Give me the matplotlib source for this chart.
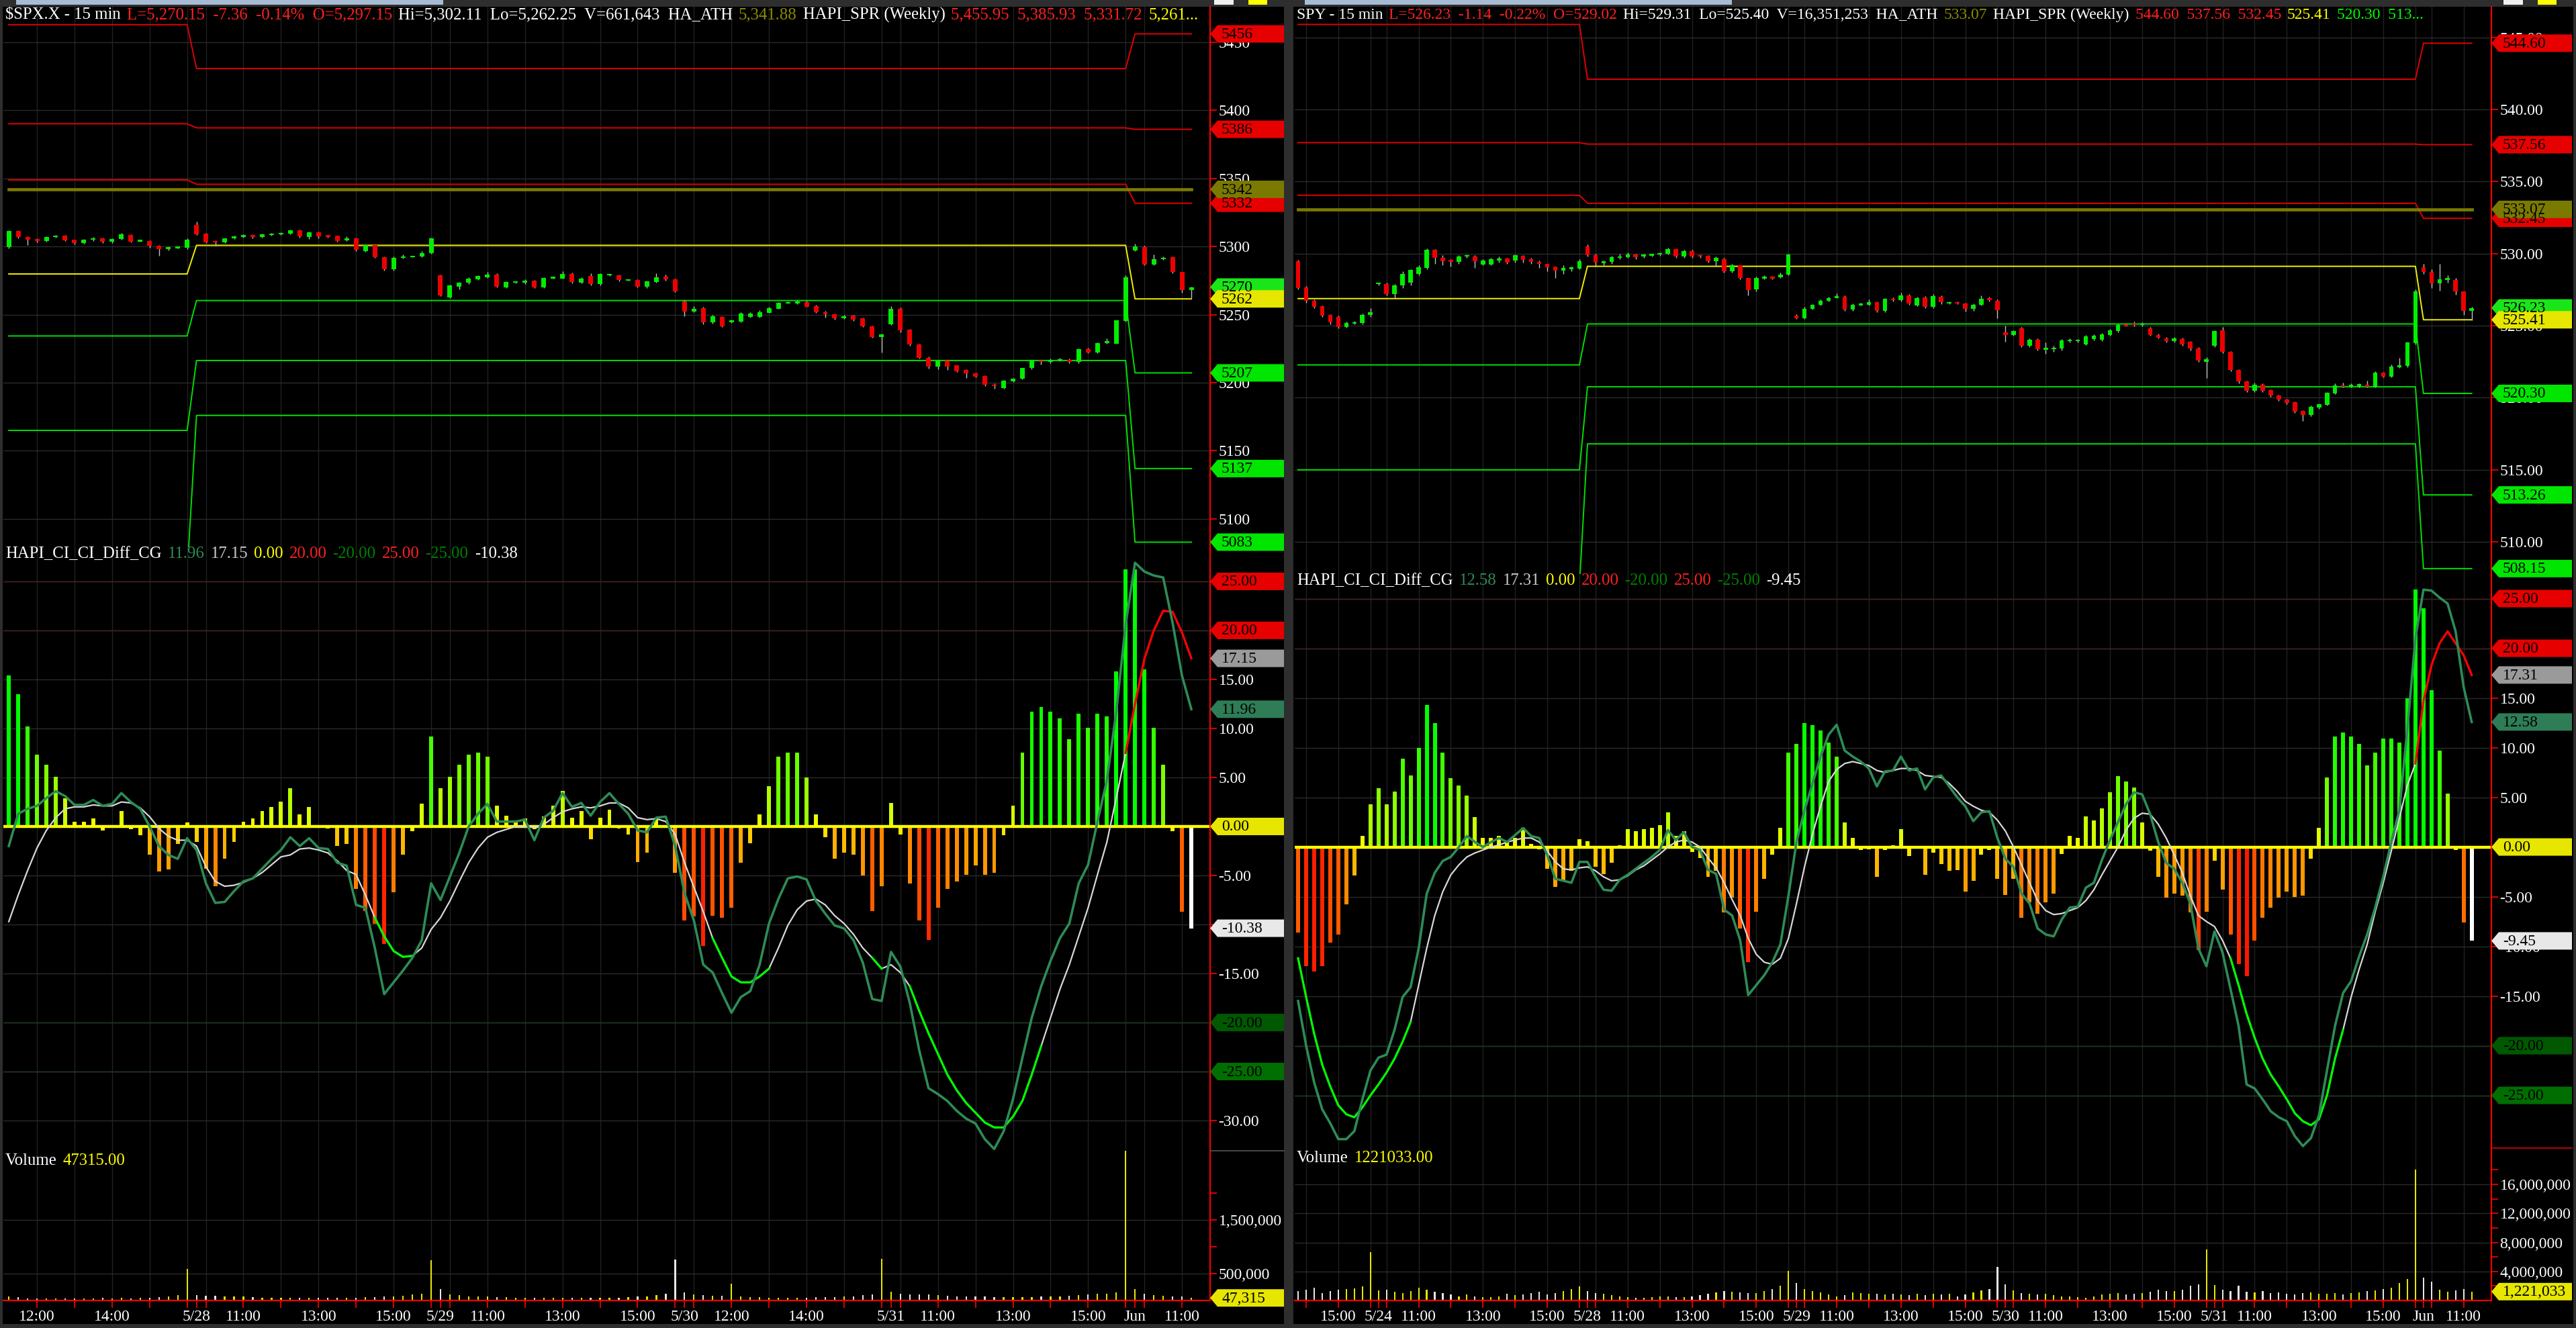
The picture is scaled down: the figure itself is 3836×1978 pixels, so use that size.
import numpy as np
import matplotlib
matplotlib.use('Agg')
import matplotlib.pyplot as plt
from matplotlib.patches import Polygon, Rectangle
from matplotlib.lines import Line2D
from matplotlib.transforms import IdentityTransform
from matplotlib.colors import LinearSegmentedColormap
from matplotlib.ticker import FuncFormatter

plt.rcParams['font.family'] = ['Liberation Serif', 'DejaVu Serif']

W, H = 3836, 1978
FS = 17
FS_TITLE = 17.8
PX = IdentityTransform()

# ================= $SPX.X data =================
spx_days = ['5/24', '5/28', '5/29', '5/30', '5/31', 'Jun']
spx_first_bar = [675, 585, 585, 645, 585, 585]      # minutes of first bar end
spx_bar_count = [20, 26, 26, 22, 26, 7]
spx_hour_labels = [[12, 14], [11, 13, 15], [11, 13, 15], [12, 14], [11, 13, 15], [11]]

spx_open = [5299.5, 5311.3, 5306.9, 5305.3, 5303.9, 5306.9, 5307.7, 5304.8, 5302.5, 5304.8, 5306.1, 5303.3, 5305.3, 5308.5, 5304.1, 5303.9, 5300.6, 5297.9, 5299.2, 5299.2,
            5316.0, 5309.4, 5303.9, 5303.1, 5305.9, 5306.9, 5308.5, 5306.9, 5309.0, 5309.0, 5309.2, 5311.8, 5307.1, 5310.2, 5307.7, 5307.7, 5304.4, 5305.9, 5296.7, 5301.0, 5292.1, 5283.5, 5291.4, 5292.6, 5292.4, 5294.9,
            5278.8, 5262.8, 5270.7, 5273.2, 5276.1, 5277.6, 5279.3, 5270.2, 5273.8, 5273.2, 5274.8, 5269.9, 5277.0, 5276.6, 5279.9, 5273.3, 5278.4, 5272.2, 5279.3, 5278.8, 5275.3, 5275.3, 5270.7, 5274.0, 5277.8, 5275.8,
            5259.7, 5252.1, 5254.6, 5244.1, 5248.2, 5244.4, 5245.0, 5248.5, 5248.5, 5251.3, 5254.3, 5258.5, 5258.0, 5259.2, 5256.2, 5251.8, 5250.2, 5247.2, 5249.3, 5247.4, 5241.6, 5233.4,
            5243.1, 5254.3, 5239.1, 5227.9, 5218.4, 5211.8, 5216.1, 5212.6, 5209.5, 5206.9, 5204.9, 5198.7, 5195.9, 5200.8, 5202.9, 5210.7, 5216.1, 5215.1, 5216.4, 5216.9, 5215.4, 5224.5, 5222.0, 5228.9, 5228.8, 5245.5,
            5297.0, 5299.5, 5286.7, 5291.0, 5292.1, 5281.2, 5268.0]
spx_close = [5311.3, 5306.9, 5304.9, 5303.9, 5306.9, 5307.7, 5304.4, 5302.5, 5304.9, 5306.1, 5303.3, 5305.3, 5308.9, 5303.6, 5304.2, 5300.3, 5297.9, 5299.3, 5299.3, 5304.9,
             5309.0, 5303.1, 5303.1, 5305.9, 5307.4, 5308.5, 5306.9, 5308.9, 5309.1, 5309.9, 5311.8, 5307.4, 5310.2, 5307.4, 5307.6, 5304.1, 5306.1, 5297.4, 5301.0, 5292.1, 5283.5, 5291.8, 5292.8, 5292.7, 5295.1, 5305.9,
             5264.1, 5271.5, 5273.3, 5276.6, 5278.4, 5279.3, 5270.7, 5273.8, 5273.9, 5275.0, 5269.9, 5277.0, 5277.1, 5279.9, 5274.0, 5276.6, 5272.2, 5279.6, 5279.4, 5275.3, 5275.4, 5270.7, 5274.3, 5277.5, 5276.0, 5266.9,
             5252.1, 5254.3, 5244.1, 5249.0, 5241.6, 5245.7, 5250.8, 5250.8, 5251.6, 5254.8, 5258.4, 5258.6, 5259.5, 5255.9, 5251.5, 5250.2, 5247.2, 5249.0, 5246.5, 5241.6, 5233.7, 5235.5,
             5254.3, 5238.6, 5227.9, 5218.4, 5211.8, 5216.1, 5212.0, 5208.5, 5206.9, 5204.6, 5198.3, 5197.5, 5201.3, 5202.9, 5210.7, 5216.1, 5215.1, 5216.9, 5217.2, 5215.4, 5224.5, 5222.0, 5228.9, 5230.4, 5245.7, 5277.2,
             5299.8, 5286.8, 5290.8, 5291.4, 5281.1, 5268.0, 5270.2]
spx_high = [5312.0, 5312.0, 5307.5, 5306.0, 5307.5, 5308.5, 5308.5, 5305.0, 5305.5, 5307.0, 5306.5, 5306.0, 5310.0, 5309.0, 5304.8, 5304.5, 5301.0, 5300.0, 5300.0, 5306.0,
            5318.1, 5310.0, 5304.5, 5306.5, 5308.0, 5309.0, 5309.0, 5309.5, 5309.8, 5310.5, 5312.5, 5312.5, 5311.0, 5311.0, 5308.5, 5308.0, 5307.5, 5306.5, 5301.5, 5301.5, 5292.5, 5292.5, 5294.0, 5293.2, 5296.5, 5306.5,
            5279.5, 5272.0, 5274.0, 5277.5, 5279.0, 5281.5, 5280.5, 5274.5, 5274.5, 5275.8, 5275.5, 5277.5, 5277.6, 5282.0, 5281.0, 5277.5, 5280.5, 5280.5, 5280.0, 5279.5, 5276.0, 5276.0, 5275.0, 5280.5, 5279.5, 5276.5,
            5260.5, 5256.0, 5255.5, 5250.0, 5249.0, 5246.5, 5251.5, 5251.5, 5253.0, 5255.5, 5259.0, 5259.5, 5260.5, 5260.0, 5257.0, 5252.5, 5250.8, 5249.8, 5250.0, 5248.0, 5242.0, 5236.0,
            5256.0, 5255.0, 5239.5, 5228.5, 5219.0, 5217.0, 5217.0, 5213.0, 5210.0, 5207.5, 5205.5, 5199.5, 5202.0, 5203.5, 5211.0, 5217.0, 5217.0, 5217.5, 5218.0, 5217.5, 5225.0, 5225.5, 5229.5, 5232.5, 5246.0, 5279.0,
            5302.0, 5300.5, 5294.0, 5292.5, 5292.5, 5281.5, 5270.5]
spx_low = [5298.5, 5306.0, 5301.0, 5303.0, 5303.5, 5306.5, 5304.0, 5301.5, 5302.0, 5304.0, 5302.5, 5302.5, 5305.0, 5303.0, 5303.5, 5299.0, 5292.9, 5297.0, 5298.5, 5298.0,
           5308.5, 5302.5, 5300.5, 5302.5, 5305.5, 5306.5, 5306.0, 5306.5, 5308.0, 5308.5, 5308.8, 5306.5, 5305.5, 5306.0, 5306.5, 5303.5, 5304.0, 5296.5, 5296.0, 5291.5, 5282.5, 5282.5, 5291.0, 5292.0, 5292.0, 5294.5,
           5263.5, 5262.0, 5268.5, 5272.5, 5275.5, 5277.0, 5270.0, 5269.5, 5273.0, 5272.5, 5269.5, 5269.5, 5276.5, 5276.2, 5273.0, 5273.0, 5271.5, 5271.5, 5278.5, 5274.5, 5274.7, 5270.0, 5269.5, 5273.5, 5275.0, 5266.5,
           5249.0, 5251.5, 5243.0, 5243.5, 5241.0, 5244.0, 5244.5, 5248.0, 5248.0, 5251.0, 5254.0, 5258.0, 5257.5, 5255.5, 5251.0, 5248.0, 5246.5, 5246.8, 5245.5, 5241.0, 5233.0, 5222.0,
           5242.5, 5237.0, 5227.0, 5217.5, 5210.5, 5210.0, 5209.5, 5208.0, 5203.5, 5204.0, 5197.5, 5195.5, 5195.5, 5200.5, 5202.5, 5210.0, 5213.5, 5214.5, 5216.0, 5214.5, 5214.5, 5221.5, 5221.5, 5228.5, 5228.5, 5245.0,
           5296.5, 5286.0, 5286.0, 5290.0, 5280.5, 5266.0, 5262.3]

# weekly levels (red1, red2, red3, yellow, green1, green2, green3) per week
spx_week_bars = [20, 100, 7]
spx_levels = {'r1': [5462.7, 5430.5, 5455.95], 'r2': [5390.0, 5387.0, 5385.93], 'r3': [5348.8, 5345.6, 5331.72],
              'y': [5279.8, 5300.8, 5261.5], 'g1': [5234.3, 5260.3, 5207.2], 'g2': [5165.0, 5216.3, 5137.0],
              'g3': [5060.0, 5176.0, 5083.0]}
spx_ath = 5341.88

spx_hist = [15.4, 13.5, 10.2, 7.3, 6.3, 5.1, 2.9, 0.5, 0.5, 0.8,
            -0.4, 0.1, 1.6, -0.3, -0.9, -2.9, -4.6, -4.4, -1.8, 0.4,
            -1.6, -4.3, -6.1, -3.3, -1.6, 0.5, 0.8, 1.6, 2.0, 2.5,
            3.9, 1.2, 2.0, 0.1, -0.2, -2.0, -1.8, -6.4, -8.6, -9.9,
            -12.0, -6.7, -2.9, -0.5, 2.3, 9.2, 3.9, 5.1, 6.3, 7.3,
            7.5, 7.1, 2.1, 1.1, 0.5, 0.8, -0.3, 1.0, 2.1, 3.6,
            0.9, 1.6, -1.3, 0.9, 1.7, -0.2, -0.8, -3.6, -2.7, 0.9,
            0.1, -4.7, -9.6, -9.2, -12.2, -9.1, -9.3, -8.3, -3.7, -1.7,
            1.2, 4.1, 7.1, 7.5, 7.5, 5.0, 1.2, -1.1, -3.3, -2.7,
            -2.9, -5.0, -8.6, -6.1, 2.4, -0.8, -5.8, -9.6, -11.6, -8.3,
            -6.4, -5.6, -4.9, -4.0, -4.9, -4.7, -0.9, 2.1, 7.5, 11.7,
            12.2, 11.7, 11.0, 8.9, 11.5, 10.1, 11.5, 11.2, 15.8, 26.2,
            26.2, 16.0, 10.1, 6.3, -0.5, -8.7, -10.38]
spx_fast = [-2.0, 1.3, 1.8, 2.1, 2.9, 3.6, 3.1, 2.2, 2.2, 2.7,
            2.1, 2.3, 3.4, 2.5, 1.8, 0.0, -2.0, -2.9, -3.3, -1.2,
            -2.4, -5.8, -7.8, -7.7, -6.6, -5.6, -5.3, -4.3, -3.3, -2.4,
            -1.1, -2.0, -1.2, -2.2, -2.3, -3.7, -4.0, -8.0, -8.3, -12.4,
            -17.1, -15.9, -14.7, -13.4, -11.6, -5.8, -7.5, -5.1, -2.7, 0.0,
            1.3, 2.3, 0.5, 0.5, 0.5, 0.7, -1.4, 0.9, 1.6, 3.4,
            2.0, 2.4, 1.1, 2.5, 3.4, 2.3, 1.3, -0.4, -0.6, 0.9,
            1.0, -2.0, -6.8, -9.6, -14.1, -14.9, -17.0, -19.0, -17.4, -16.8,
            -14.1, -9.9, -7.4, -5.3, -5.1, -5.4, -7.6, -8.9, -10.1, -10.4,
            -11.6, -13.9, -17.6, -17.8, -12.8, -14.3, -18.0, -22.8, -26.7, -27.3,
            -28.0, -29.0, -29.8, -30.3, -31.9, -32.9, -31.1, -27.8, -23.6, -19.5,
            -16.3, -13.7, -11.4, -9.9, -5.8, -3.9, 0.5, 4.7, 11.7, 20.6,
            26.9, 26.0, 25.6, 25.4, 20.8, 15.4, 11.96]
spx_slow = [-9.7, -7.0, -4.5, -2.2, -0.4, 0.9, 1.8, 2.0, 2.0, 2.2,
            2.1, 2.1, 2.5, 2.4, 1.9, 1.0, -0.2, -1.0, -1.4, -1.4,
            -2.0, -4.1, -5.6, -6.1, -6.0, -5.7, -5.3, -4.7, -3.9, -3.1,
            -2.9, -2.3, -2.2, -2.4, -2.7, -3.5, -4.5, -4.9, -7.0, -9.3,
            -11.2, -12.7, -13.3, -13.2, -12.4, -10.5, -9.3, -7.6, -5.6, -3.7,
            -2.2, -1.1, -0.6, -0.3, 0.0, 0.0, -0.1, 0.2, 0.9, 1.5,
            1.8, 2.0, 1.9, 2.1, 2.4, 2.4, 1.9, 0.9, 0.7, 0.8,
            0.5, -0.8, -3.7, -6.2, -8.7, -11.4, -13.4, -15.3, -15.9, -15.9,
            -15.3, -14.5, -12.4, -10.1, -8.5, -7.6, -7.4, -8.0, -9.1, -9.9,
            -11.0, -12.4, -13.4, -14.5, -14.1, -14.9, -16.3, -18.8, -21.1, -23.2,
            -25.3, -26.9, -28.2, -29.2, -30.2, -30.7, -30.7, -29.6, -28.0, -25.3,
            -22.4, -19.5, -16.6, -14.1, -11.2, -8.3, -4.9, -1.6, 2.9, 7.5,
            12.5, 17.1, 20.0, 22.0, 21.9, 19.8, 17.15]
spx_green_runs = [(39, 43), (75, 81), (92, 93), (96, 110)]
spx_red_runs = [(119, 126)]

spx_volume_k = [70, 65, 40, 40, 38, 42, 35, 40, 38, 35, 45, 40, 45, 40, 50, 55, 60, 75, 95, 590,
                104, 83, 85, 80, 75, 70, 60, 55, 55, 50, 50, 45, 45, 45, 50, 45, 50, 55, 60, 65, 70, 80, 92, 112, 130, 750,
                208, 112, 100, 80, 75, 70, 65, 60, 55, 50, 50, 45, 45, 50, 45, 45, 50, 45, 50, 55, 60, 70, 80, 100, 120, 760,
                150, 110, 100, 90, 85, 317, 70, 65, 60, 55, 55, 50, 50, 55, 60, 60, 65, 70, 80, 95, 110, 770,
                167, 120, 110, 115, 110, 95, 85, 80, 75, 70, 70, 65, 60, 60, 60, 65, 70, 75, 80, 90, 100, 110, 120, 130, 150, 3200,
                217, 130, 100, 90, 80, 70, 47.315]

spx_title = [('$SPX.X - 15 min', 'white'), ('L=5,270.15  -7.36  -0.14%  O=5,297.15', '#ff2020'),
             ('Hi=5,302.11  Lo=5,262.25  V=661,643  HA_ATH', 'white'), ('5,341.88', '#8c8c00'),
             ('HAPI_SPR (Weekly)', 'white'), ('5,455.95  5,385.93  5,331.72', '#ff2020'), ('5,261...', '#ffff00')]

# ================= SPY data =================
spy_days = ['5/23', '5/24', '5/28', '5/29', '5/30', '5/31', 'Jun']
spy_first_bar = [825, 585, 585, 585, 585, 585, 585]
spy_bar_count = [10, 26, 26, 26, 26, 26, 7]
spy_hour_labels = [[15], [11, 13, 15], [11, 13, 15], [11, 13, 15], [11, 13, 15], [11, 13, 15], [11]]

spy_open = [529.49, 527.68, 526.73, 526.34, 525.75, 525.63, 524.92, 525.16, 525.19, 525.74,
            527.90, 527.89, 527.21, 527.78, 528.00, 528.60, 529.01, 530.25, 529.72, 529.57, 529.41, 529.83, 529.78, 529.24, 529.24, 529.52, 529.64, 529.52, 529.85, 529.60, 529.44, 529.29, 529.09, 528.82, 528.98, 528.98,
            530.50, 529.91, 529.36, 529.41, 529.72, 529.75, 529.92, 529.80, 529.92, 529.92, 530.00, 530.31, 529.80, 530.16, 529.85, 529.85, 529.49, 529.63, 528.79, 529.18, 528.29, 527.52, 528.30, 528.35, 528.36, 528.56,
            525.72, 525.54, 526.19, 526.44, 526.75, 526.93, 527.01, 526.14, 526.47, 526.47, 526.62, 526.03, 526.85, 526.78, 527.12, 526.42, 526.96, 526.31, 527.01, 526.59, 526.59, 526.54, 526.16, 526.47, 526.90, 526.73,
            524.53, 524.37, 524.84, 523.60, 524.02, 523.40, 523.40, 523.40, 523.97, 523.97, 523.72, 524.06, 524.03, 524.37, 524.61, 525.07, 525.15, 525.04, 524.84, 524.37, 524.11, 523.91, 524.06, 523.88, 523.43, 522.51,
            523.60, 524.68, 523.18, 521.94, 521.12, 520.50, 520.89, 520.53, 520.14, 519.88, 519.68, 519.10, 518.79, 519.34, 519.52, 520.30, 520.84, 520.76, 520.82, 520.89, 520.76, 521.74, 521.47, 522.13, 522.20, 523.80,
            529.04, 528.72, 527.92, 528.24, 528.19, 527.37, 526.05]
spy_close = [527.63, 526.73, 526.31, 525.72, 525.26, 524.92, 525.19, 525.23, 525.77, 525.95,
             527.95, 527.21, 527.78, 528.60, 528.85, 529.05, 530.25, 529.71, 529.49, 529.44, 529.78, 529.84, 529.46, 529.53, 529.60, 529.64, 529.38, 529.88, 529.57, 529.44, 529.29, 529.05, 528.82, 529.01, 528.99, 529.49,
             529.91, 529.36, 529.45, 529.75, 529.80, 529.92, 529.75, 529.92, 529.93, 530.03, 530.31, 529.80, 530.16, 529.80, 529.84, 529.49, 529.72, 528.79, 529.18, 528.29, 527.47, 528.29, 528.36, 528.33, 528.56, 529.92,
             525.54, 526.19, 526.44, 526.75, 526.93, 527.04, 526.14, 526.47, 526.48, 526.62, 526.03, 526.85, 526.82, 527.12, 526.54, 526.90, 526.31, 527.04, 526.62, 526.60, 526.58, 526.16, 526.47, 526.88, 526.78, 526.08,
             524.37, 524.64, 523.60, 524.02, 523.37, 523.41, 523.42, 523.99, 523.98, 523.98, 524.27, 524.30, 524.42, 524.68, 525.07, 525.00, 525.04, 525.15, 524.37, 524.17, 523.91, 524.11, 523.68, 523.40, 522.56, 522.67,
             524.61, 523.18, 521.94, 521.12, 520.50, 520.89, 520.50, 520.14, 519.88, 519.65, 519.06, 518.79, 519.37, 519.55, 520.33, 520.86, 520.76, 520.89, 520.93, 520.76, 521.74, 521.47, 522.16, 522.25, 523.83, 527.37,
             528.72, 527.92, 528.24, 528.25, 527.37, 526.05, 526.23]
spy_high = [529.55, 527.75, 526.8, 526.4, 525.8, 525.7, 525.3, 525.35, 525.85, 526.2,
            528.0, 528.0, 527.9, 528.8, 528.9, 529.2, 530.35, 530.3, 529.9, 529.6, 529.9, 529.95, 529.9, 529.6, 529.7, 529.8, 529.7, 529.95, 529.9, 529.7, 529.5, 529.3, 529.1, 529.2, 529.1, 529.6,
            530.65, 530.0, 529.5, 529.85, 530.0, 530.1, 530.0, 530.0, 530.0, 530.1, 530.4, 530.35, 530.25, 530.25, 529.95, 529.9, 529.8, 529.7, 529.3, 529.2, 528.3, 528.4, 528.5, 528.45, 528.7, 530.0,
            525.8, 526.3, 526.5, 526.8, 527.0, 527.25, 527.1, 526.55, 526.6, 526.8, 526.7, 526.9, 526.95, 527.3, 527.2, 527.0, 527.05, 527.2, 527.1, 526.7, 526.7, 526.6, 526.55, 527.1, 527.0, 526.8,
            525.0, 524.7, 524.9, 524.1, 524.1, 523.85, 523.6, 524.05, 524.1, 524.05, 524.35, 524.4, 524.5, 524.75, 525.15, 525.15, 525.3, 525.25, 524.9, 524.45, 524.2, 524.2, 524.15, 523.95, 523.5, 522.8,
            524.7, 524.9, 523.25, 522.0, 521.2, 521.05, 521.0, 520.6, 520.2, 519.95, 519.75, 519.15, 519.45, 519.6, 520.4, 521.0, 521.05, 521.0, 521.0, 521.2, 521.85, 521.8, 522.3, 522.75, 523.9, 527.5,
            529.31, 528.9, 529.3, 528.5, 528.3, 527.4, 526.3]
spy_low = [527.5, 526.6, 526.2, 525.6, 525.1, 524.8, 524.85, 525.1, 525.1, 525.6,
           527.8, 527.1, 526.9, 527.6, 527.8, 528.5, 528.9, 529.3, 529.2, 529.1, 529.3, 529.7, 529.0, 529.2, 529.2, 529.4, 529.3, 529.4, 529.4, 529.3, 529.0, 528.8, 528.3, 528.6, 528.8, 528.9,
           529.8, 529.1, 529.2, 529.3, 529.6, 529.7, 529.6, 529.7, 529.8, 529.85, 529.95, 529.7, 529.7, 529.7, 529.7, 529.4, 529.1, 528.7, 528.7, 528.2, 527.12, 527.4, 528.2, 528.2, 528.3, 528.5,
           525.45, 525.45, 526.1, 526.4, 526.7, 526.9, 526.05, 526.05, 526.4, 526.4, 525.95, 525.95, 526.7, 526.7, 526.45, 526.35, 526.2, 526.2, 526.5, 526.5, 526.5, 526.0, 526.05, 526.4, 526.7, 525.5,
           523.9, 524.3, 523.5, 523.5, 523.3, 523.06, 523.2, 523.3, 523.85, 523.85, 523.65, 524.0, 523.95, 524.3, 524.55, 524.95, 524.95, 524.95, 524.3, 524.1, 523.85, 523.85, 523.6, 523.3, 522.5, 521.35,
           523.5, 523.1, 521.85, 521.0, 520.4, 520.4, 520.4, 520.05, 519.8, 519.55, 518.95, 518.41, 518.7, 519.25, 519.45, 520.25, 520.7, 520.7, 520.7, 520.7, 520.7, 521.4, 521.4, 522.05, 522.1, 523.7,
           528.6, 527.6, 527.45, 527.98, 527.17, 525.73, 525.40]

spy_week_bars = [36, 104, 7]
spy_levels = {'r1': [545.9, 542.1, 544.60], 'r2': [537.7, 537.6, 537.56], 'r3': [534.05, 533.49, 532.45],
              'y': [526.88, 529.12, 525.41], 'g1': [522.28, 525.12, 520.30], 'g2': [515.0, 520.76, 513.26],
              'g3': [507.0, 516.8, 508.15]}
spy_ath = 533.07

spy_hist = [-8.6, -12.0, -12.5, -12.0, -9.6, -8.8, -5.8, -2.9, 1.1, 4.3,
            5.9, 4.3, 5.6, 8.9, 7.2, 10.0, 14.3, 12.5, 9.5, 6.9,
            6.2, 5.2, 3.0, 0.9, 0.9, 1.1, 0.5, 0.9, 1.9, 0.3,
            -0.2, -2.2, -4.0, -3.4, -2.4, 0.8, 0.6, -2.0, -2.7, -1.6,
            0.2, 1.8, 1.6, 1.8, 1.9, 2.2, 3.5, 1.1, 1.6, -0.5,
            -1.1, -3.0, -2.4, -6.6, -5.1, -8.2, -11.6, -6.5, -3.2, -0.8,
            1.9, 9.5, 10.4, 12.5, 12.3, 11.7, 10.5, 9.1, 2.5, 0.9,
            -0.3, -0.2, -3.0, -0.3, 0.2, 1.8, -0.9, 0.1, -2.8, -0.6,
            -1.7, -2.4, -2.3, -4.5, -3.4, -0.8, -0.3, -3.2, -4.8, -3.2,
            -7.1, -5.6, -6.7, -5.6, -4.7, -0.7, 1.1, 0.9, 3.1, 2.7,
            3.9, 5.5, 7.1, 6.6, 6.0, 2.5, -0.4, -3.0, -5.1, -4.7,
            -4.9, -6.6, -10.4, -6.5, -1.4, -4.3, -8.8, -11.8, -13.0, -9.4,
            -7.1, -6.1, -5.1, -4.5, -5.0, -4.9, -1.2, 1.9, 7.0, 11.1,
            11.5, 11.1, 10.4, 8.2, 9.5, 10.9, 10.9, 10.5, 15.0,
            25.9, 24.0, 15.8, 9.7, 5.4, -0.3, -7.6, -9.45]
spy_fast = [-15.5, -20.0, -23.7, -26.4, -27.8, -29.4, -29.4, -28.6, -25.4, -22.5,
            -21.2, -20.9, -18.4, -15.1, -14.1, -10.2, -4.7, -2.6, -1.4, -1.0,
            0.0, 1.1, 0.5, 0.0, 0.5, 0.9, 0.5, 1.2, 1.9, 1.1,
            0.9, -0.8, -3.2, -3.4, -3.6, -1.5, -1.5, -3.0, -4.3, -4.4,
            -3.3, -2.8, -2.2, -1.6, -1.0, -0.3, 1.7, 0.7, 1.5, 0.0,
            -0.3, -2.3, -2.7, -6.3, -6.9, -9.4, -14.9, -13.9, -12.9, -11.6,
            -9.8, -4.9, 0.5, 3.7, 6.4, 9.1, 11.3, 12.3, 9.7, 9.1,
            8.6, 7.9, 6.1, 7.6, 7.7, 9.1, 7.7, 7.9, 5.8, 7.0,
            7.2, 6.1, 5.0, 4.1, 2.6, 3.5, 3.6, 0.9, -1.2, -2.0,
            -4.7, -5.7, -8.2, -8.8, -9.0, -7.3, -6.1, -6.0, -4.1, -3.6,
            -1.3, 0.7, 2.5, 4.3, 5.5, 5.3, 3.3, 0.5, -1.6, -2.2,
            -3.6, -5.7, -10.2, -12.0, -8.5, -10.6, -14.3, -18.0, -23.9, -24.3,
            -25.4, -26.6, -27.2, -27.6, -29.1, -30.1, -29.3, -27.0, -22.5, -18.0,
            -14.7, -13.5, -11.0, -8.8, -6.1, -3.0, 0.5, 3.7, 11.9,
            21.0, 25.9, 25.8, 25.1, 24.5, 21.7, 16.1, 12.58]
spy_slow = [-11.2, -15.1, -18.8, -21.9, -24.1, -26.0, -26.9, -27.2, -26.2, -25.0,
            -23.9, -22.7, -21.3, -19.6, -17.6, -13.9, -10.2, -6.9, -4.5, -2.8,
            -1.8, -1.0, -0.6, -0.3, 0.0, 0.2, 0.5, 0.7, 0.9, 0.9,
            0.5, -0.4, -1.5, -2.2, -2.3, -2.1, -2.0, -2.4, -3.0, -3.4,
            -3.3, -2.9, -2.3, -1.9, -1.3, -0.7, 0.0, 0.5, 0.7, 0.5,
            0.0, -1.1, -2.1, -3.6, -5.3, -6.9, -9.2, -10.8, -11.6, -11.8,
            -11.2, -9.2, -5.7, -2.0, 1.3, 4.1, 6.6, 7.8, 8.4, 8.6,
            8.4, 8.2, 7.7, 7.5, 7.7, 7.9, 7.9, 7.7, 7.2, 7.1,
            7.0, 6.4, 5.6, 4.6, 4.1, 3.7, 3.5, 2.7, 1.6, 0.0,
            -1.8, -3.6, -5.4, -6.4, -6.8, -6.7, -6.4, -6.1, -5.4, -4.3,
            -2.8, -1.4, 0.0, 1.7, 2.9, 3.4, 3.3, 2.3, 0.9, -0.8,
            -2.6, -4.9, -6.9, -7.5, -8.0, -9.4, -11.2, -13.9, -16.8, -19.2,
            -21.3, -22.9, -24.1, -25.4, -26.8, -27.6, -28.0, -27.4, -25.0, -21.3,
            -18.4, -15.1, -12.3, -9.8, -6.5, -3.6, -0.4, 2.9, 6.2,
            8.4, 14.7, 18.3, 20.5, 21.7, 20.5, 19.3, 17.31]
spy_green_runs = [(0, 14), (116, 130)]
spy_red_runs = [(139, 146)]

spy_volume_m = [1.3, 1.5, 1.8, 1.0, 1.3, 1.5, 1.6, 1.7, 1.9, 6.7,
                1.4, 1.5, 1.2, 1.0, 1.3, 1.8, 1.5, 1.2, 1.0, 0.8, 0.6, 0.8, 0.6, 0.5, 0.5, 0.6, 0.9, 0.7, 0.8, 1.0, 1.2, 0.8, 1.0, 1.3, 1.6, 1.9,
                1.3, 1.0, 0.9, 0.7, 0.6, 0.5, 0.4, 0.4, 0.5, 0.6, 0.6, 0.5, 0.5, 0.6, 0.7, 0.9, 1.1, 1.3, 1.2, 1.1, 1.0, 1.0, 1.3, 1.6, 2.0, 4.1,
                2.4, 1.6, 1.3, 1.1, 0.8, 0.6, 0.7, 1.1, 1.0, 0.9, 0.9, 0.8, 0.9, 0.8, 0.7, 0.9, 0.7, 0.9, 0.8, 0.9, 0.6, 0.8, 1.1, 1.4, 1.6, 4.6,
                2.2, 1.4, 1.0, 0.9, 0.8, 0.9, 0.7, 0.6, 0.6, 0.5, 0.4, 0.6, 0.8, 0.9, 1.0, 0.8, 0.9, 1.0, 1.2, 1.5, 1.3, 1.3, 1.5, 2.0, 2.2, 7.0,
                2.1, 1.5, 1.3, 2.0, 1.2, 1.1, 1.3, 1.0, 1.1, 0.9, 0.8, 1.0, 1.1, 0.9, 0.9, 1.0, 0.8, 1.0, 1.1, 1.3, 1.4, 1.6, 1.8, 2.4, 3.0, 18.0,
                3.1, 2.6, 1.5, 1.2, 1.4, 1.6, 1.221033]

spy_title = [('SPY - 15 min', 'white'), ('L=526.23  -1.14  -0.22%  O=529.02', '#ff2020'),
             ('Hi=529.31  Lo=525.40  V=16,351,253  HA_ATH', 'white'), ('533.07', '#8c8c00'),
             ('HAPI_SPR (Weekly)', 'white'), ('544.60  537.56  532.45', '#ff2020'), ('525.41', '#ffff00'),
             ('520.30  513...', '#00ff00')]

# ================= drawing =================
fig = plt.figure(figsize=(W / 100, H / 100), dpi=100, facecolor='#2e2e2e')

HIST_CMAP = LinearSegmentedColormap.from_list('hist', [
    (0.0, '#ff1500'), (6 / 26, '#ff7800'), (11 / 26, '#ffc400'), (13 / 26, '#ffff00'),
    (16 / 26, '#ccff00'), (20 / 26, '#70ff00'), (1.0, '#00ff00')])

LEVEL_COL = {'r1': '#e00000', 'r2': '#e00000', 'r3': '#e00000', 'y': '#f0f000',
             'g1': '#00e000', 'g2': '#00e000', 'g3': '#00e000'}


def make_ax(x0, x1, y0, y1):
    ax = fig.add_axes([x0 / W, (H - y1) / H, (x1 - x0) / W, (y1 - y0) / H])
    ax.set_facecolor('black')
    for s in ax.spines.values():
        s.set_visible(False)
    ax.tick_params(axis='x', which='both', bottom=False, labelbottom=False)
    ax.yaxis.tick_right()
    ax.tick_params(axis='y', which='both', colors='red', labelcolor='white',
                   length=7, width=1.2, labelsize=FS, pad=2)
    ax.grid(axis='y', which='major', color='#2a2a2a', lw=1.0)
    return ax


def tag(ax, v, text, fc, w):
    x0 = ax.get_position().x1 * W
    y = ax.transData.transform((0, v))[1]
    hh = 13
    pts = [(x0, y), (x0 + 11, y + hh), (x0 + w, y + hh), (x0 + w, y - hh), (x0 + 11, y - hh)]
    fig.add_artist(Polygon(pts, closed=True, transform=PX, fc=fc, ec='none', zorder=5))
    fig.text(x0 + 17, y - 1, text, transform=PX, color='black', fontsize=FS,
             va='center', ha='left', zorder=6)


def text_row(x, y_img, parts, fs=FS_TITLE):
    r = fig.canvas.get_renderer()
    for s, col in parts:
        t = fig.text(x, H - y_img, s, transform=PX, color=col, fontsize=fs,
                     va='center', ha='left', zorder=7)
        x = t.get_window_extent(renderer=r).x1 + 9


def draw_chart(g):
    n = len(g['close'])
    x = np.arange(n)
    counts = g['counts']
    first = g['first']
    minutes = np.concatenate([f + 15 * np.arange(k) for f, k in zip(first, counts)])
    start = np.cumsum([0] + counts[:-1])
    hour_bars = np.where(minutes % 60 == 0)[0]

    ticks, labels = [], []
    for d in range(len(counts)):
        if d > 0:
            ticks.append(start[d])
            labels.append(g['days'][d])
        for hr in g['hours'][d]:
            ticks.append(start[d] + (hr * 60 - first[d]) // 15)
            labels.append(f'{hr}:00')

    x0, x1 = g['x0'], g['x1']
    axp = make_ax(x0, x1, *g['price'])
    axo = make_ax(x0, x1, *g['osc'])
    axv = make_ax(x0, x1, *g['vol'])
    for ax in (axp, axo, axv):
        ax.set_xlim(*g['xlim'])
        for k in hour_bars:
            ax.axvline(k, color='#212121', lw=1.0, zorder=0)
    axp.set_ylim(*g['plim'])
    axo.set_ylim(*g['olim'])
    axv.set_ylim(*g['vlim'])

    # ---- price panel ----
    axp.set_yticks(g['pticks'])
    axp.yaxis.set_major_formatter(FuncFormatter(lambda v, p: g['pfmt'].format(v)))
    for key, vals in g['levels'].items():
        series = np.repeat(vals, g['week_bars'])
        axp.plot(x, series, color=LEVEL_COL[key], lw=1.4, zorder=2)
    axp.plot([0, n - 1], [g['ath'], g['ath']], color='#808000', lw=3.4, alpha=0.95, zorder=2)

    o = np.array(g['open']); c = np.array(g['close'])
    hi = np.array(g['high']); lo = np.array(g['low'])
    up = c >= o
    axp.vlines(x, lo, hi, color='#c0c0c0', lw=1.0, zorder=3)
    prange = g['plim'][1] - g['plim'][0]
    body = np.abs(c - o)
    mn = prange * 0.0028
    bottom = np.where(body < mn, (o + c) / 2 - mn / 2, np.minimum(o, c))
    axp.bar(x, np.maximum(body, mn), g['cw'], bottom=bottom,
            color=np.where(up, '#00ee00', '#ee0000'), zorder=4)

    # ---- oscillator panel ----
    axo.set_yticks(g['oticks'])
    axo.yaxis.set_major_formatter(FuncFormatter(lambda v, p: f'{v:.2f}'))
    hist = np.array(g['hist'])
    cols = [HIST_CMAP(np.clip((v + 13) / 26, 0, 1)) for v in hist]
    cols[-1] = (1, 1, 1, 1)
    axo.bar(x, hist, g['hw'], color=cols, zorder=2)
    for lv, col in ((25, '#d00000'), (20, '#d00000'), (-20, '#008000'), (-25, '#008000')):
        axo.axhline(lv, color=col, lw=1.0, zorder=1)
    axo.axhline(0, color='#ffff00', lw=3.2, zorder=3)
    slow = np.array(g['slow']); fast = np.array(g['fast'])
    axo.plot(x, slow, color='#d8d8d8', lw=1.6, zorder=4)
    for a, b in g['green_runs']:
        axo.plot(x[a:b + 1], slow[a:b + 1], color='#00ff00', lw=2.3, zorder=5)
    for a, b in g['red_runs']:
        axo.plot(x[a:b + 1], slow[a:b + 1], color='#ff0000', lw=2.3, zorder=5)
    axo.plot(x, fast, color='#2e8b57', lw=2.6, zorder=6)

    # ---- volume panel ----
    vol = np.array(g['vol_data'])
    axv.set_yticks(g['vticks'])
    axv.set_yticks(g['vminor'], minor=True)
    axv.yaxis.set_major_formatter(FuncFormatter(lambda v, p: f'{v:,.0f}'))
    axv.bar(x, vol, g['vw'], color=np.where(up, '#e6e600', '#e6e6e6'), zorder=2)
    axv.spines['bottom'].set_visible(True)
    axv.spines['bottom'].set_color('red')
    axv.spines['bottom'].set_linewidth(1.6)
    axv.set_xticks(ticks)
    axv.set_xticklabels(labels)
    axv.set_xticks(hour_bars, minor=True)
    axv.tick_params(axis='x', which='both', bottom=True, labelbottom=True, colors='red',
                    labelcolor='white', length=8, width=1.2, labelsize=FS, pad=2)

    # ---- right axis line and separators ----
    xr = axp.get_position().x1 * W
    fig.add_artist(Line2D([xr, xr], [H - 10, H - g['vol'][1]], transform=PX, color='red', lw=1.5, zorder=4))
    fig.add_artist(Line2D([xr, xr + g['tw']], [H - g['vol'][0]] * 2, transform=PX,
                          color=g['sep'], lw=1.2, zorder=4))

    # ---- tags ----
    w = g['tw']
    for v, col in g['ptags']:
        tag(axp, v, g['pfmt_tag'].format(v), col, w)
    otags = [(25, '#e60000'), (20, '#e60000'), (slow[-1], '#9a9a9a'), (fast[-1], '#2e7d57'),
             (0, '#e6e600'), (hist[-1], '#e8e8e8'), (-20, '#005800'), (-25, '#006e00')]
    for v, col in otags:
        tag(axo, v, f'{v:.2f}', col, w)
    tag(axv, vol[-1], f'{vol[-1]:,.0f}', '#e6e600', w)

    # ---- titles ----
    text_row(x0 + 3, 22, g['title'], g['title_fs'])
    osc_parts = [('HAPI_CI_CI_Diff_CG', 'white'), (f'{fast[-1]:.2f}', '#2e8b57'),
                 (f'{slow[-1]:.2f}', '#c8c8c8'), ('0.00', '#ffff00'), ('20.00', '#ff2020'),
                 ('-20.00', '#008000'), ('25.00', '#ff2020'), ('-25.00', '#008000'),
                 (f'{hist[-1]:.2f}', 'white')]
    text_row(x0 + 3, g['osc'][0] + 10, osc_parts)
    text_row(x0 + 3, g['vol'][0] + 15, [('Volume', 'white'), (f'{vol[-1]:.2f}', '#ffff00')])


# panel backgrounds and top bar
fig.add_artist(Rectangle((4, H - 1972), 1908, 1962, transform=PX, fc='black', ec='none', zorder=-5))
fig.add_artist(Rectangle((1926, H - 1972), 1906, 1962, transform=PX, fc='black', ec='none', zorder=-5))
for rx, rw, col in ((24, 636, '#a7bcd4'), (1808, 29, '#f0f0f0'), (1859, 28, '#ffff00'),
                    (1943, 636, '#a7bcd4'), (3728, 29, '#f0f0f0'), (3779, 28, '#ffff00')):
    fig.add_artist(Rectangle((rx, H - 7), rw, 7, transform=PX, fc=col, ec='none', zorder=-4))

spx = dict(days=spx_days, first=spx_first_bar, counts=spx_bar_count, hours=spx_hour_labels,
           open=spx_open, high=spx_high, low=spx_low, close=spx_close,
           levels=spx_levels, week_bars=spx_week_bars, ath=spx_ath,
           hist=spx_hist, fast=spx_fast, slow=spx_slow,
           green_runs=spx_green_runs, red_runs=spx_red_runs,
           vol_data=[v * 1000 for v in spx_volume_k], title=spx_title, title_fs=17.8,
           x0=5, x1=1802, price=(10, 815), osc=(815, 1714), vol=(1714, 1937),
           xlim=(-0.58, 128.0), plim=(5079.3, 5475.9), olim=(-33.08, 28.49), vlim=(0, 2.7875e6),
           pticks=list(range(5100, 5451, 50)), pfmt='{:.0f}', pfmt_tag='{:.0f}',
           oticks=list(range(-30, 26, 5)), vticks=[5e5, 1.5e6], vminor=[1e6, 2e6],
           cw=0.5, hw=0.42, vw=0.16, tw=110, sep='#555555',
           ptags=[(5455.95, '#e60000'), (5385.93, '#e60000'), (5331.72, '#e60000'), (spx_ath, '#7a7a00'),
                  (spx_close[-1], '#19e619'), (5261.5, '#e6e600'), (5207.2, '#00e600'),
                  (5137.0, '#00e600'), (5083.0, '#00e600')])

spy = dict(days=spy_days, first=spy_first_bar, counts=spy_bar_count, hours=spy_hour_labels,
           open=spy_open, high=spy_high, low=spy_low, close=spy_close,
           levels=spy_levels, week_bars=spy_week_bars, ath=spy_ath,
           hist=spy_hist, fast=spy_fast, slow=spy_slow,
           green_runs=spy_green_runs, red_runs=spy_red_runs,
           vol_data=[v * 1e6 for v in spy_volume_m], title=spy_title, title_fs=17.0,
           x0=1928, x1=3710, price=(10, 855), osc=(855, 1710), vol=(1710, 1937),
           xlim=(-0.42, 148.45), plim=(507.77, 547.13), olim=(-30.30, 27.47), vlim=(0, 21.0e6),
           pticks=list(range(510, 546, 5)), pfmt='{:.2f}', pfmt_tag='{:.2f}',
           oticks=list(range(-25, 26, 5)), vticks=[4e6, 8e6, 12e6, 16e6], vminor=[2e6, 6e6, 10e6, 14e6, 18e6],
           cw=0.55, hw=0.5, vw=0.18, tw=120, sep='#dd0000',
           ptags=[(544.60, '#e60000'), (537.56, '#e60000'), (532.45, '#e60000'), (spy_ath, '#7a7a00'),
                  (spy_close[-1], '#19e619'), (525.41, '#e6e600'), (520.30, '#00e600'),
                  (513.26, '#00e600'), (508.15, '#00e600')])

draw_chart(spx)
draw_chart(spy)

fig.savefig('out.png', dpi=100, facecolor=fig.get_facecolor())
